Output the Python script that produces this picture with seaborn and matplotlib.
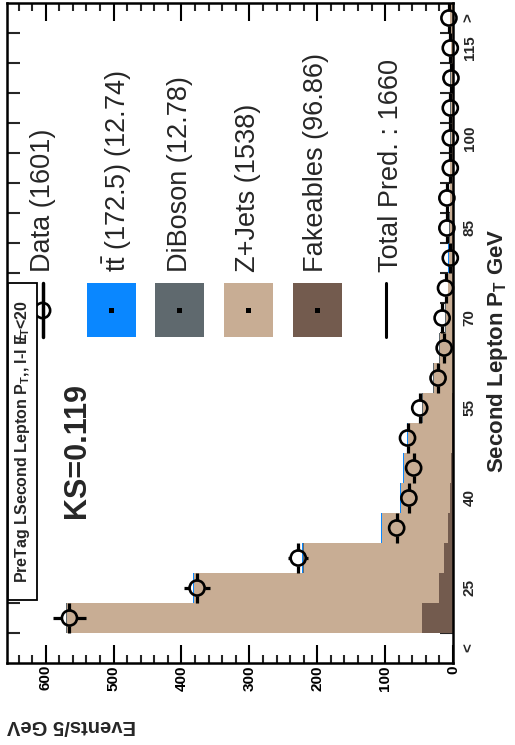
import numpy as np
import pandas as pd
import matplotlib
matplotlib.use("Agg")
import matplotlib.pyplot as plt
import seaborn as sns
from matplotlib.patches import Rectangle
from matplotlib.lines import Line2D
from matplotlib.ticker import MultipleLocator, FixedLocator

# ---- binned content (5 GeV bins, first = underflow, last = overflow) ----
pt_centers = [15, 20, 25, 30, 35, 40, 45, 50, 55, 60, 65,
              70, 75, 80, 85, 90, 95, 100, 105, 110, 115, 120]
pt_ticklabels = {15: "<", 25: "25", 40: "40", 55: "55", 70: "70",
                 85: "85", 100: "100", 115: "115", 120: ">"}

data_counts = [0, 565, 377, 228, 83, 65, 58, 67, 49, 22, 13,
               16, 11, 4, 9, 9, 4, 4, 4, 3, 4, 6]
ttbar = [0, 0.6, 0.9, 1.2, 1.2, 1.1, 1.1, 1.0, 0.9, 0.8, 0.7,
         0.6, 0.5, 0.4, 0.35, 0.3, 0.25, 0.2, 0.2, 0.15, 0.1, 0.2]
diboson = [0, 0.3, 0.7, 0.8, 0.8, 0.8, 0.8, 0.8, 0.8, 0.75, 0.7,
           0.65, 0.6, 0.55, 0.5, 0.5, 0.45, 0.45, 0.4, 0.4, 0.35, 0.3]
zjets = [0, 523.6, 361.2, 207.2, 96.6, 71.0, 69.2, 65.0, 43.5, 28.05, 19.3,
         10.55, 6.8, 6.05, 5.15, 4.2, 4.3, 3.35, 3.4, 3.45, 2.55, 4.5]
fakeables = [0, 45.5, 20.2, 12.8, 7.4, 5.1, 2.9, 1.2, 0.8, 0.4, 0.3,
             0.2, 0.1, 0, 0, 0, 0, 0, 0, 0, 0, 0]

processes = ["ttbar", "DiBoson", "Z+Jets", "Fakeables"]
proc_colors = {"ttbar": "#0a87ff", "DiBoson": "#5f696e",
               "Z+Jets": "#c8ad94", "Fakeables": "#735b4e"}
legend_labels = [r"$\mathrm{t}\bar{\mathrm{t}}$ (172.5) (12.74)",
                 "DiBoson (12.78)", "Z+Jets (1538)", "Fakeables (96.86)"]
data_label = "Data (1601)"
total_label = "Total Pred. : 1660"
ks_text = "KS=0.119"
cut_text = r"PreTag LSecond Lepton P$_{\mathbf{T}}$,, l-l $\mathbf{E\!\!\!/}_{\mathbf{T}}$<20"

bin_width = 5
edges = [12.5 + bin_width * k for k in range(len(pt_centers) + 1)]

sns.set_theme(style="white")
plt.rcParams["font.family"] = ["Liberation Sans", "DejaVu Sans"]
plt.rcParams["mathtext.fontset"] = "custom"
plt.rcParams["mathtext.rm"] = "Liberation Sans"
plt.rcParams["mathtext.bf"] = "Liberation Sans:bold"
plt.rcParams["mathtext.it"] = "Liberation Sans:italic"

W, H = 515, 745
fig = plt.figure(figsize=(W / 100, H / 100), dpi=100)
fig.patch.set_facecolor("white")


def fx(x):
    return x / W


def fy(y):
    return 1 - y / H


ax = fig.add_axes([fx(7), fy(663), (453 - 7) / W, (663 - 3) / H])
ax.set_facecolor("white")

frame = pd.DataFrame({
    "process": np.repeat(processes, len(pt_centers)),
    "pt": pt_centers * len(processes),
    "events": np.concatenate([ttbar, diboson, zjets, fakeables]),
})

sns.histplot(data=frame, y="pt", weights="events", hue="process",
             hue_order=processes, multiple="stack", bins=edges,
             palette=proc_colors, element="bars", fill=True, alpha=1,
             linewidth=0, legend=False, ax=ax)

xmax = 657
ax.set_xlim(xmax, 0)
ax.set_ylim(edges[0], edges[-1])

# data points with stat error (events) and bin-width error (pt)
px_per_event = (453 - 7) / xmax
px_per_gev = (663 - 3) / (edges[-1] - edges[0])
r_px = 7.5
rx = r_px / px_per_event
ry = r_px / px_per_gev
for pt, n in zip(pt_centers, data_counts):
    if n <= 0:
        continue
    err = np.sqrt(n)
    ax.plot([n, n], [pt - bin_width / 2, pt - ry], color="black", lw=2.3,
            solid_capstyle="butt", clip_on=False, zorder=5)
    ax.plot([n, n], [pt + ry, pt + bin_width / 2], color="black", lw=2.3,
            solid_capstyle="butt", clip_on=False, zorder=5)
    if err > rx:
        ax.plot([n - err, n - rx], [pt, pt], color="black", lw=2.3,
                solid_capstyle="butt", zorder=5)
        ax.plot([n + rx, n + err], [pt, pt], color="black", lw=2.3,
                solid_capstyle="butt", zorder=5)
pts = pd.DataFrame({"pt": pt_centers, "n": data_counts})
pts = pts[pts["n"] > 0]
sns.scatterplot(data=pts, x="n", y="pt", marker="o", s=118,
                facecolors="none", edgecolor="black", linewidth=1.9,
                ax=ax, zorder=6, clip_on=False, legend=False)
ax.set_xlabel("")
ax.set_ylabel("")

# axes styling
for sp in ax.spines.values():
    sp.set_linewidth(1.8)
    sp.set_color("black")
    sp.set_zorder(7)

ax.xaxis.set_major_locator(FixedLocator([0, 100, 200, 300, 400, 500, 600]))
ax.xaxis.set_minor_locator(MultipleLocator(20))
ax.set_xticklabels(["0", "100", "200", "300", "400", "500", "600"],
                   rotation=90, fontweight="bold", fontsize=11)
ax.tick_params(axis="x", which="major", direction="in", length=13, width=1.5,
               top=True, bottom=True, pad=1.5, colors="black")
ax.tick_params(axis="x", which="minor", direction="in", length=6, width=1.5,
               top=True, bottom=True)

ax.yaxis.set_major_locator(FixedLocator(edges[1:-1]))
ax.yaxis.set_minor_locator(FixedLocator(list(pt_ticklabels.keys())))
ax.yaxis.set_major_formatter(plt.NullFormatter())
ax.set_yticklabels(list(pt_ticklabels.values()), minor=True,
                   rotation=90, fontweight="bold", fontsize=11)
ax.tick_params(axis="y", which="major", direction="in", length=9.5, width=1.5,
               left=True, right=True, labelleft=False, labelright=False)
ax.tick_params(axis="y", which="minor", length=0, left=False, right=False,
               labelleft=False, labelright=True, pad=7)
for lab in ax.get_yticklabels(minor=True):
    lab.set_verticalalignment("center")

# axis titles
fig.text(fx(497), fy(228), r"Second Lepton P$_{\mathbf{T}}$ GeV",
         rotation=90, ha="center", va="top", fontsize=16, fontweight="bold")
fig.text(fx(72), fy(726), "Events/5 GeV", rotation=180, ha="center",
         va="center", fontsize=14.5, fontweight="bold")

# legend columns
box_x = [87, 155, 224, 293]
for x0, proc in zip(box_x, processes):
    fig.patches.append(Rectangle((fx(x0), fy(337)), 49 / W, 54 / H,
                                 transform=fig.transFigure,
                                 facecolor=proc_colors[proc], edgecolor="none",
                                 zorder=3))
    fig.patches.append(Rectangle((fx(x0 + 24.5 - 2.5), fy(310 + 2.5)), 5 / W, 5 / H,
                                 transform=fig.transFigure,
                                 facecolor="black", edgecolor="none", zorder=4))
text_x = [117, 180, 248, 316]
for xc, lab in zip(text_x, legend_labels):
    fig.text(fx(xc), fy(272), lab, rotation=90, ha="center", va="bottom",
             fontsize=19.5)
fig.text(fx(43), fy(272), data_label, rotation=90, ha="center", va="bottom",
         fontsize=19.5)
fig.text(fx(391), fy(272), total_label, rotation=90, ha="center",
         va="bottom", fontsize=19.5)
fig.lines.append(Line2D([fx(386), fx(386)], [fy(283), fy(337)],
                        transform=fig.transFigure, color="black", lw=2.2))
fig.lines.append(Line2D([fx(43), fx(43)], [fy(283), fy(337)],
                        transform=fig.transFigure, color="black", lw=2.5,
                        zorder=3))
fig.lines.append(Line2D([fx(42)], [fy(310)], transform=fig.transFigure,
                        marker="o", markersize=11, mfc="none", mec="black",
                        mew=1.9, zorder=3))

# KS statistic
fig.text(fx(77), fy(518), ks_text, rotation=90, ha="center", va="bottom",
         fontsize=22, fontweight="bold")

# selection box
fig.patches.append(Rectangle((fx(8), fy(600)), 29 / W, 317 / H,
                             transform=fig.transFigure, facecolor="white",
                             edgecolor="black", lw=1.3, zorder=8))
fig.text(fx(22.5), fy(442), cut_text, rotation=90, ha="center", va="center",
         fontsize=11.5, fontweight="bold", zorder=9)

fig.savefig("out.png", dpi=100)
